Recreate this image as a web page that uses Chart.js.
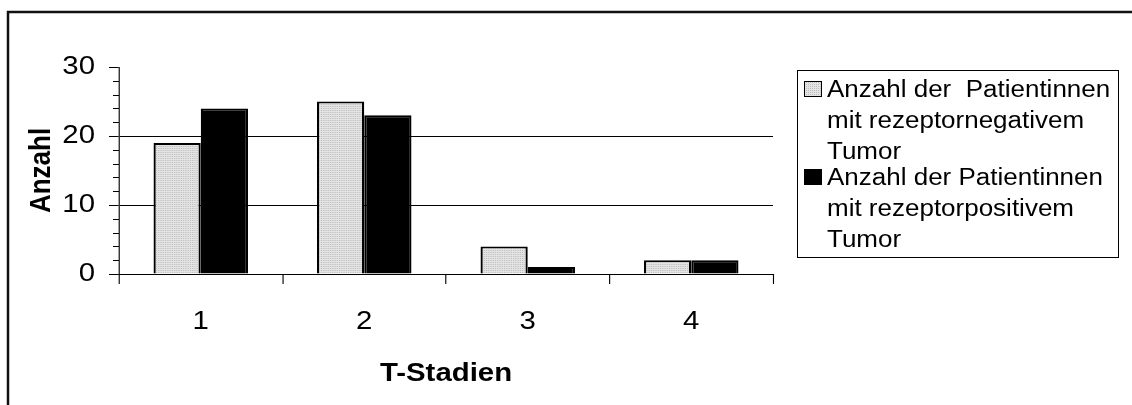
<!DOCTYPE html>
<html>
<head>
<meta charset="utf-8">
<script src="https://cdn.jsdelivr.net/npm/chart.js@4.4.1/dist/chart.umd.min.js"></script>
<style>
  html, body { margin: 0; padding: 0; background: #fff; }
  #wrap { width: 1132px; height: 405px; position: relative; }
</style>
</head>
<body>
<div id="wrap"><canvas id="c"></canvas></div>
<script>
const stages = ['1', '2', '3', '4'];
const negative = [19, 25, 4, 2];
const positive = [24, 23, 1, 2];
const negLabel = ['Anzahl der  Patientinnen', 'mit rezeptornegativem', 'Tumor'];
const posLabel = ['Anzahl der Patientinnen', 'mit rezeptorpositivem', 'Tumor'];
const yTicks = [0, 10, 20, 30];

const FONT = '"Liberation Sans", Arial, sans-serif';
// the old chart is drawn a bit wider than tall, so text gets stretched sideways
const K = 1.13;

// dotted light grey fill like the old office charts
function dots() {
    const p = document.createElement('canvas');
    p.width = 2; p.height = 2;
    const g = p.getContext('2d');
    g.fillStyle = '#e4e4e4';
    g.fillRect(0, 0, 2, 2);
    g.fillStyle = '#bdbdbd';
    g.fillRect(0, 0, 1, 1);
    return g.createPattern(p, 'repeat');
}
const greyFill = dots();

const extras = {
    id: 'extras',
    beforeDraw(chart) {
        chart.ctx.save();
        chart.ctx.scale(K, 1);
    },
    afterDraw(chart) {
        const ctx = chart.ctx;
        const y = chart.scales.y;
        // minor ticks on the value axis (still in stretched space)
        ctx.strokeStyle = '#000';
        ctx.lineWidth = 1;
        for (let v = 2; v < 30; v += 2) {
            if (v % 10 === 0) continue;
            const py = Math.round(y.getPixelForValue(v)) + 0.5;
            ctx.beginPath();
            ctx.moveTo(y.right - 6 / K, py);
            ctx.lineTo(y.right, py);
            ctx.stroke();
        }
        ctx.restore();

        ctx.save();
        ctx.setTransform(1, 0, 0, 1, 0, 0);
        // outer frame
        ctx.strokeStyle = '#111';
        ctx.lineWidth = 2.5;
        ctx.beginPath();
        ctx.moveTo(8, 405);
        ctx.lineTo(8, 12);
        ctx.lineTo(1132, 12);
        ctx.stroke();
        // legend
        ctx.lineWidth = 1;
        ctx.strokeStyle = '#000';
        ctx.strokeRect(797.5, 70.5, 321, 187);
        const entries = [
            { lines: negLabel, fill: greyFill, base: 97 },
            { lines: posLabel, fill: '#000', base: 185 }
        ];
        entries.forEach(e => {
            ctx.fillStyle = e.fill;
            ctx.fillRect(804, e.base - 16, 18, 16);
            ctx.strokeStyle = '#000';
            ctx.strokeRect(804.5, e.base - 15.5, 17, 15);
        });
        ctx.setTransform(K, 0, 0, 1, 0, 0);
        ctx.font = '23px ' + FONT;
        ctx.fillStyle = '#000';
        ctx.textBaseline = 'alphabetic';
        entries.forEach(e => {
            e.lines.forEach((t, i) => ctx.fillText(t, 827 / K, e.base + i * 31));
        });
        ctx.restore();
    }
};

new Chart(document.getElementById('c'), {
    type: 'bar',
    data: {
        labels: stages,
        datasets: [
            { label: negLabel.join(' '), data: negative, backgroundColor: greyFill, borderColor: '#000', borderWidth: 2, borderSkipped: 'bottom' },
            { label: posLabel.join(' '), data: positive, backgroundColor: '#000', borderColor: '#000', borderWidth: 2, borderSkipped: 'bottom' }
        ]
    },
    options: {
        responsive: true,
        maintainAspectRatio: false,
        animation: false,
        layout: { padding: { top: 67, left: 0, right: 1132 - 773 / K, bottom: 0 } },
        datasets: { bar: { categoryPercentage: 0.578, barPercentage: 1 } },
        plugins: { legend: { display: false }, tooltip: { enabled: false } },
        scales: {
            x: {
                afterFit(s) { s.height = 131; },
                grid: { offset: true, drawOnChartArea: false, color: '#000', tickLength: 10 },
                border: { color: '#000', width: 1 },
                ticks: { color: '#000', font: { family: FONT, size: 26 }, padding: 22 },
                title: { display: true, text: 'T-Stadien', color: '#000', font: { family: FONT, size: 26, weight: 'bold' }, padding: { top: 0, bottom: 16 } }
            },
            y: {
                min: 0, max: 30,
                afterFit(s) { s.width = 119 / K; },
                afterBuildTicks(s) { s.ticks = yTicks.map(v => ({ value: v })); },
                grid: {
                    color: c => (c.tick && c.tick.value > 0 && c.tick.value < 30) ? '#000' : 'rgba(0,0,0,0)',
                    tickColor: '#000',
                    tickLength: 10 / K
                },
                border: { color: '#000', width: 1 },
                ticks: { color: '#000', font: { family: FONT, size: 26 }, padding: 12.4 },
                title: { display: true, text: 'Anzahl', color: '#000', font: { family: FONT, size: 26, weight: 'bold' }, padding: { top: 21.4, bottom: 0 } }
            }
        }
    },
    plugins: [extras]
});
</script>
</body>
</html>
